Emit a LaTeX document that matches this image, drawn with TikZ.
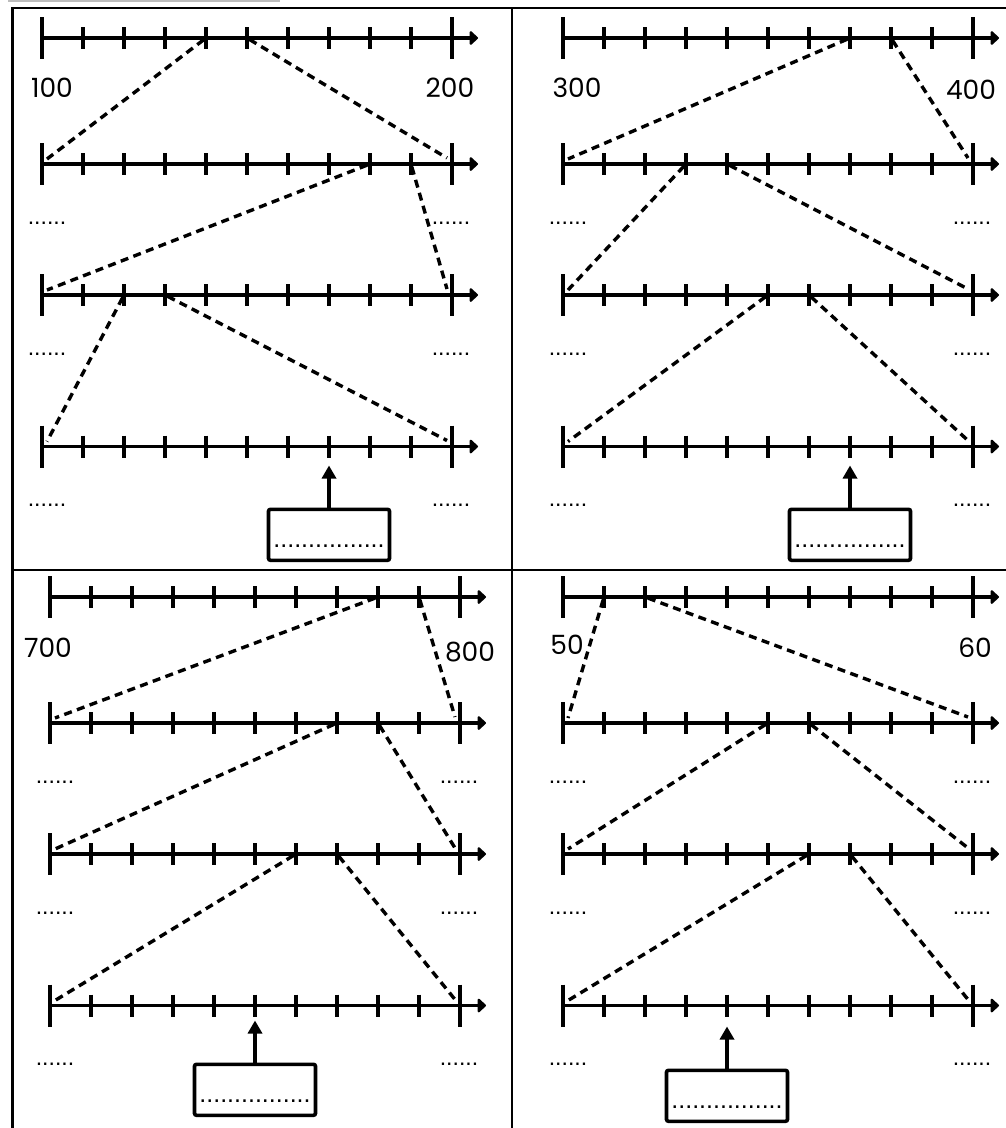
\documentclass[tikz,border=0pt]{standalone}
\usepackage{fontspec}
\setmainfont{Poppins}
\newfontfamily\dotfont{Liberation Sans}
\usetikzlibrary{arrows.meta,calc}
\definecolor{ink}{HTML}{000000}
\definecolor{cutline}{HTML}{BDBDBD}
\tikzset{
  axis/.style={draw=ink, line width=3.6pt, -{Triangle[length=9pt,width=16pt,round]}},
  tick/.style={draw=ink, line width=3.4pt},
  endtick/.style={draw=ink, line width=3.6pt},
  guide/.style={draw=ink, line width=3.4pt, dash pattern=on 8pt off 5.5pt, shorten <=3pt},
  frame/.style={draw=ink, line width=2.2pt},
  num/.style={inner sep=0pt, font=\fontsize{26.5}{30}\selectfont},
  blank/.style={inner sep=0pt, font=\dotfont\fontsize{23}{24}\selectfont},
  answer/.style={draw=ink, line width=3.6pt, rounded corners=2pt, minimum width=121pt, minimum height=51pt,
    inner sep=0pt, font=\dotfont\fontsize{25}{26}\selectfont},
  pointer/.style={draw=ink, line width=3.6pt, -{Triangle[length=13pt,width=14pt]}},
}

\begin{document}
\begin{tikzpicture}[x=1pt, y=-1pt]
\useasboundingbox (0,0) rectangle (1006,1128);

% ───────────── sheet frame ─────────────
\draw[cutline, line width=1.5pt] (8,0.8) -- (280,0.8);
\draw[frame] (12.5,1130) -- (12.5,8) -- (1010,8);
\draw[frame] (512,8) -- (512,1130);
\draw[frame] (12.5,570) -- (1010,570);

% ───────────── four number lines in each panel ─────────────
\foreach \p/\px/\py in {a/42/0,b/563/0,c/50/559,d/563/559} {
  \begin{scope}[shift={(\px,\py)}]
    \foreach \r/\y in {1/38,2/164,3/295,4/446.5} {
      \draw[axis] (0,\y) -- (436,\y);
      \draw[endtick] (0,\y-21) -- (0,\y+21);
      \draw[endtick] (410,\y-21) -- (410,\y+21);
      \foreach \i in {0,...,10} {\coordinate (\p\r-\i) at (41*\i,\y);}
      \foreach \i in {1,...,9} {\draw[tick] (\p\r-\i) ++(0,-11) -- ++(0,22);}
      \coordinate (\p\r-L) at (5,\y-5);
      \coordinate (\p\r-R) at (405,\y-6);
    }
    \foreach \r/\y in {2/164,3/295,4/446.5} {
      \node[blank, anchor=base] (\p\r-bl) at (5,\y+60) {......};
      \node[blank, anchor=base] (\p\r-br) at (409,\y+60) {......};
    }
  \end{scope}
}

% ───────────── end labels ─────────────
\node[num] (a-lo) at ($(a1-0)+(10,50)$) {100};
\node[num] (a-hi) at ($(a1-0)+(408,50)$) {200};
\node[num] (b-lo) at ($(b1-0)+(14,50)$) {300};
\node[num] (b-hi) at ($(b1-0)+(408,52)$) {400};
\node[num] (c-lo) at ($(c1-0)+(-2,51)$) {700};
\node[num] (c-hi) at ($(c1-0)+(420,55)$) {800};
\node[num] (d-lo) at ($(d1-0)+(4,48)$) {50};
\node[num] (d-hi) at ($(d1-0)+(412,51)$) {60};

% ───────────── zoom guides: one step opens to the next line ─────────────
\foreach \r/\s/\k/\m in {1/2/4/5,2/3/8/9,3/4/2/3} {
  \draw[guide] (a\r-\k) -- (a\s-L); \draw[guide] (a\r-\m) -- (a\s-R);}
\foreach \r/\s/\k/\m in {1/2/7/8,2/3/3/4,3/4/5/6} {
  \draw[guide] (b\r-\k) -- (b\s-L); \draw[guide] (b\r-\m) -- (b\s-R);}
\foreach \r/\s/\k/\m in {1/2/8/9,2/3/7/8,3/4/6/7} {
  \draw[guide] (c\r-\k) -- (c\s-L); \draw[guide] (c\r-\m) -- (c\s-R);}
\foreach \r/\s/\k/\m in {1/2/1/2,2/3/5/6,3/4/6/7} {
  \draw[guide] (d\r-\k) -- (d\s-L); \draw[guide] (d\r-\m) -- (d\s-R);}

% ───────────── answer boxes ─────────────
\node[answer, anchor=north] (a-box) at ($(a4-7)+(0,61)$) {\rule{0pt}{25pt}................};
\node[answer, anchor=north] (b-box) at ($(b4-7)+(0,61)$) {\rule{0pt}{25pt}................};
\node[answer, anchor=north] (c-box) at ($(c4-5)+(0,57)$) {\rule{0pt}{25pt}................};
\node[answer, anchor=north] (d-box) at ($(d4-4)+(0,63)$) {\rule{0pt}{25pt}................};
\draw[pointer, shorten >=19pt] (a-box.north) -- (a4-7);
\draw[pointer, shorten >=19pt] (b-box.north) -- (b4-7);
\draw[pointer, shorten >=15pt] (c-box.north) -- (c4-5);
\draw[pointer, shorten >=21pt] (d-box.north) -- (d4-4);

\end{tikzpicture}
\end{document}
